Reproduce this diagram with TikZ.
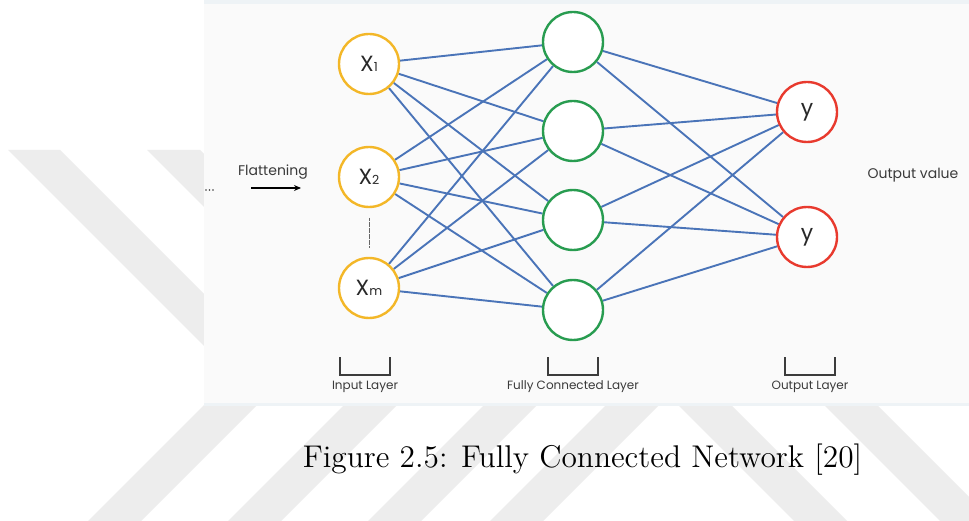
\documentclass[tikz,border=0pt]{standalone}
\usepackage{fontspec}
\setmainfont{Latin Modern Roman}
\newfontfamily\diagfont{Poppins}
\newfontfamily\capfont{lmroman12-regular.otf}
\usetikzlibrary{arrows.meta}

\definecolor{edgeblue}{RGB}{74,116,184}
\definecolor{nyellow}{RGB}{243,183,40}
\definecolor{ngreen}{RGB}{40,156,80}
\definecolor{nred}{RGB}{232,58,46}
\definecolor{textdark}{RGB}{40,40,40}
\definecolor{labelgray}{RGB}{58,58,58}
\definecolor{bracketgray}{RGB}{60,60,60}
\definecolor{panelfill}{RGB}{250,250,250}
\definecolor{panelrim}{RGB}{238,243,246}
\definecolor{stripe}{RGB}{237,237,237}

\pgfdeclarelayer{backdrop}
\pgfdeclarelayer{wires}
\pgfsetlayers{backdrop,wires,main}

\newcommand{\subidx}[2]{#1{\fontsize{12.5}{12.5}\selectfont #2}}

\begin{document}
\begin{tikzpicture}[x=1pt,y=-1pt,
  neuron/.style={circle, line width=2.4pt, fill=white, minimum size=60pt,
    inner sep=0pt, text=textdark, font=\diagfont\fontsize{22}{22}\selectfont},
  inputn/.style={neuron, draw=nyellow},
  hiddenn/.style={neuron, draw=ngreen},
  outputn/.style={neuron, draw=nred},
  wire/.style={draw=edgeblue, line width=1.9pt},
  bracketline/.style={draw=bracketgray, line width=2pt},
  layerlabel/.style={text=labelgray, inner sep=0pt,
    font=\diagfont\fontsize{12}{13}\selectfont},
  sidelabel/.style={text=labelgray, inner sep=0pt,
    font=\diagfont\fontsize{14}{15}\selectfont}]

\useasboundingbox (0,0) rectangle (969,521);

% page background, watermark stripes and the figure panel
\begin{pgfonlayer}{backdrop}
  \fill[white] (0,0) rectangle (969,521);
  % stripes falling to the right, left of the panel
  \fill[stripe] (8,150) -- (60,150) -- (310,400) -- (258,400) -- cycle;
  \fill[stripe] (147,150) -- (200,150) -- (450,400) -- (397,400) -- cycle;
  % stripes rising to the right, under the panel
  \foreach \bx in {88,228,368,490}
    \fill[stripe] (\bx,521) -- (\bx+53,521) -- (\bx+183,391) -- (\bx+130,391) -- cycle;
  % stripes falling to the right, under the panel
  \foreach \tx in {676,822}
    \fill[stripe] (\tx-12,391) -- (\tx+41,391) -- (\tx+171,521) -- (\tx+118,521) -- cycle;
  % panel
  \fill[panelrim] (204,0) rectangle (969,406);
  \fill[panelfill] (204,4) rectangle (969,403);
\end{pgfonlayer}

% input layer
\node[inputn] (x1) at (369,64)  {\subidx{X}{1}};
\node[inputn] (x2) at (369,177) {\subidx{X}{2}};
\node[inputn] (xm) at (369,288) {\subidx{X}{m}};

% fully connected layer
\node[hiddenn] (h1) at (573,42)  {};
\node[hiddenn] (h2) at (573,131) {};
\node[hiddenn] (h3) at (573,220) {};
\node[hiddenn] (h4) at (573,310) {};

% output layer
\node[outputn] (y1) at (807,112) {y};
\node[outputn] (y2) at (807,237) {y};

% connections
\begin{pgfonlayer}{wires}
  \foreach \i in {x1,x2,xm}
    \foreach \j in {h1,h2,h3,h4}
      \draw[wire] (\i) -- (\j);
  \foreach \j in {h1,h2,h3,h4}
    \foreach \k in {y1,y2}
      \draw[wire] (\j) -- (\k);
\end{pgfonlayer}

% elided inputs between x2 and xm
\coordinate (gapa) at (369,218);
\coordinate (gapb) at (369,247);
\draw[gray!80!black, line width=1pt, dash pattern=on 0.6pt off 0.6pt] (gapa) -- (gapb);

% flattening step
\foreach \dx in {206,209.5,213}
  \fill[labelgray] (\dx,190) circle (0.9);
\node[sidelabel] (flat) at (273,172) {Flattening};
\coordinate (fa) at (251,188);
\coordinate (fb) at (301,188);
\draw[black, line width=1.5pt, -{Stealth[length=7pt,width=6pt]}] (fa) -- (fb);

\node[sidelabel] (outval) at (913,175) {Output value};

% layer brackets and names
\draw[bracketline] (340,357) |- (390,375) -- (390,357);
\draw[bracketline] (548,357) |- (598,375) -- (598,357);
\draw[bracketline] (785,357) |- (835,375) -- (835,357);
\node[layerlabel] (linput) at (365,387) {Input Layer};
\node[layerlabel] (lfc)    at (573,387) {Fully Connected Layer};
\node[layerlabel] (lout)   at (810,387) {Output Layer};

% caption
\node[anchor=base, inner sep=0pt, font=\capfont\fontsize{31.4}{34}\selectfont]
  (cap) at (582.5,467) {Figure 2.5: Fully Connected Network [20]};

\end{tikzpicture}
\end{document}
